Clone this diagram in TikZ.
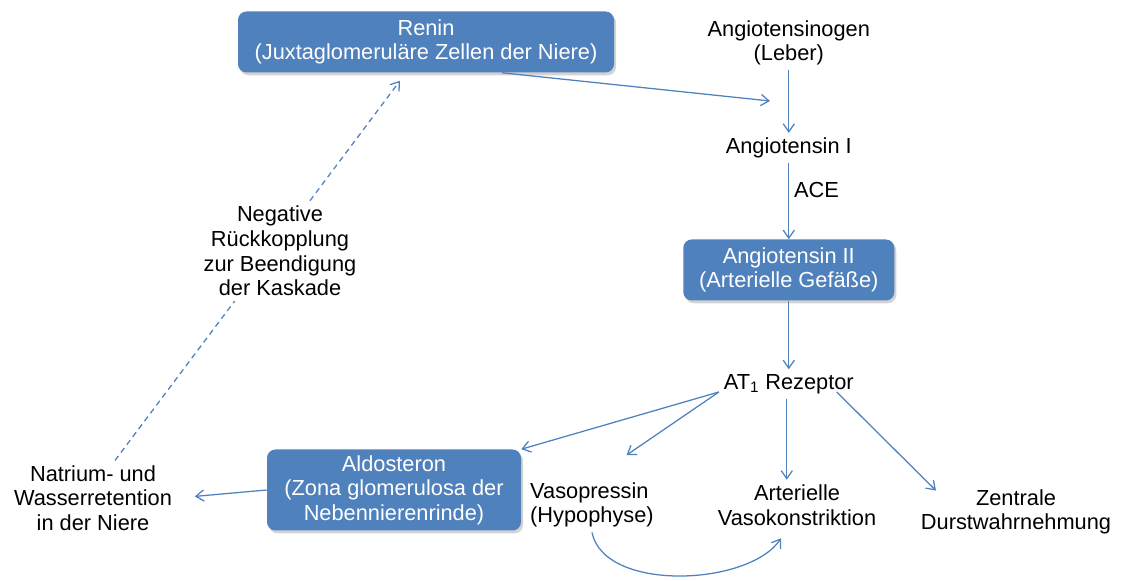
\documentclass[tikz,border=0pt]{standalone}
\usepackage{fontspec}
\setmainfont{Liberation Sans}
\usetikzlibrary{arrows.meta,shadows}
\definecolor{boxblue}{RGB}{79,129,189}

\begin{document}
\begin{tikzpicture}[
  every node/.style={font=\fontsize{15.5}{17.5}\selectfont},
  box/.style={rounded corners=6pt, fill=boxblue, text=white, align=center, drop shadow={shadow xshift=0.05cm, shadow yshift=-0.07cm, opacity=0.35}},
  txt/.style={align=center},
  arrow/.style={-{Straight Barb[length=2mm,width=2.8mm]}, draw=boxblue, line width=0.9pt},
  feedback/.style={arrow, dash pattern=on 4pt off 3pt}
]
\useasboundingbox (0,0) rectangle (28.025,14.525);

% Main boxes
\node[box, minimum width=9.4cm, minimum height=1.525cm] (renin) at (10.65,13.475) {Renin\\(Juxtaglomeruläre Zellen der Niere)};
\node[box, minimum width=5.275cm, minimum height=1.525cm] (angII) at (19.72,7.775) {Angiotensin II\\(Arterielle Gefäße)};
\node[box, minimum width=6.35cm, minimum height=2.025cm] (aldo) at (9.85,2.275) {Aldosteron\\(Zona glomerulosa der\\Nebennierenrinde)};

% Plain labels
\node[txt] (angiotensinogen) at (19.72,13.45) {Angiotensinogen\\(Leber)};
\node[txt] (angI) at (19.72,10.825) {Angiotensin I};
\node[txt] (at1) at (19.72,4.925) {AT\textsubscript{1} Rezeptor};
\node[txt] (natrium) at (2.325,2.075) {Natrium- und\\Wasserretention\\in der Niere};
\node[align=left] (vasopressin) at (14.8,1.9) {Vasopressin\\(Hypophyse)};
\node[txt] (vasokon) at (19.925,1.9) {Arterielle\\Vasokonstriktion};
\node[txt] (durst) at (25.4,1.725) {Zentrale\\Durstwahrnehmung};
\coordinate (cleave) at (19.25,12.0);

% Arrows
\draw[arrow] (angiotensinogen) -- (angI);
\draw[arrow] ([xshift=1.9cm]renin.south) -- (cleave);
\draw[arrow] (angI) -- (angII) node[pos=0.35, right] {ACE};
\draw[arrow] (angII) -- (at1);
\draw[arrow] ([yshift=-0.2cm]at1.west) -- (aldo.north east);
\draw[arrow, shorten >=0.2cm] ([yshift=-0.2cm]at1.west) -- ([xshift=0.7cm,yshift=0.45cm]vasopressin.north);
\draw[arrow] ([xshift=-0.05cm]at1.south) -- ([xshift=-0.05cm]at1.south |- vasokon.north);
\draw[arrow] ([xshift=-0.55cm,yshift=-0.2cm]at1.east) -- ([xshift=0.5cm,yshift=-0.15cm]durst.north west);
\draw[arrow, shorten >=0.45cm] (aldo.west) -- (natrium.east);
\draw[arrow] (vasopressin.south) .. controls +(0.3,-1.5) and +(-0.8,-1.2) .. ([xshift=-0.4cm,yshift=-0.2cm]vasokon.south);

% Feedback loop
\draw[feedback, shorten >=0.25cm] ([xshift=0.55cm]natrium.north) -- ([xshift=-0.5cm]renin.south);
\node[txt, fill=white] (feedtext) at (7.0,8.25) {Negative\\Rückkopplung\\zur Beendigung\\der Kaskade};
\end{tikzpicture}
\end{document}
